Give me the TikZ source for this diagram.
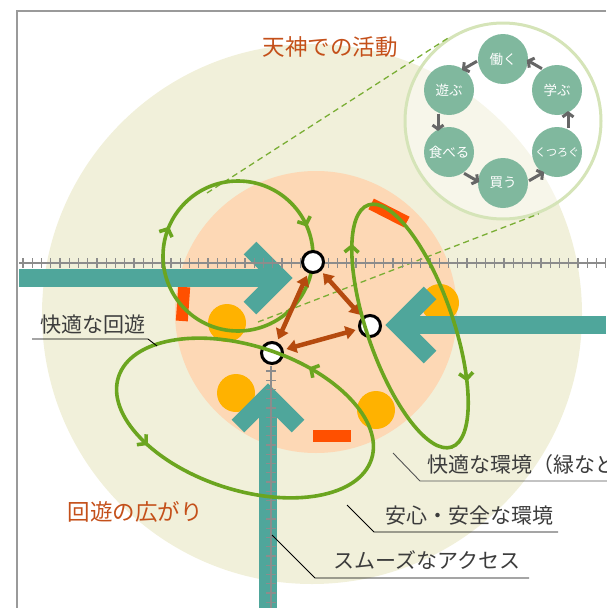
\documentclass[tikz,border=0pt]{standalone}
\usepackage{fontspec}
\setmainfont{Noto Sans CJK JP}
\usetikzlibrary{arrows.meta, calc, decorations.markings}

\definecolor{outerbeige}{HTML}{F1F0DA}
\definecolor{innerpeach}{HTML}{FDD8B5}
\definecolor{accessteal}{HTML}{4FA69B}
\definecolor{spotyellow}{HTML}{FFB200}
\definecolor{barred}{HTML}{FF5000}
\definecolor{roamgreen}{HTML}{6BA51F}
\definecolor{linkbrown}{HTML}{B54A0E}
\definecolor{actgreen}{HTML}{80B89E}
\definecolor{ringgreen}{HTML}{D5E4B8}
\definecolor{headorange}{HTML}{C4501A}
\definecolor{notegray}{HTML}{3C3C3C}
\definecolor{leadergray}{HTML}{555555}
\definecolor{trackgray}{HTML}{8C8C8C}
\definecolor{framegray}{HTML}{9A9A9A}
\definecolor{flowgray}{HTML}{666666}

\begin{document}
\begin{tikzpicture}[
        x=1pt, y=-1pt,
        roambarb/.tip={Straight Barb[length=6pt, width=14pt]},
        roam/.style={
            color=roamgreen,
            line width=3.6pt,
            postaction={decorate}
        },
        access/.style={
            draw=accessteal,
            line width=18pt
        },
        accesshead/.style={
            access,
            line join=miter,
            miter limit=4
        },
        track/.style={
            draw=trackgray,
            line width=2pt
        },
        tick/.style={
            draw=trackgray,
            line width=1.4pt
        },
        hub/.style={
            circle,
            draw=black,
            fill=white,
            line width=3pt,
            minimum size=21pt,
            inner sep=0pt
        },
        link/.style={
            draw=linkbrown,
            line width=4.5pt,
            >={Triangle[length=10pt, width=13pt]},
            <->,
            shorten <=3pt,
            shorten >=3pt
        },
        act/.style={
            circle,
            fill=actgreen,
            minimum size=50pt,
            inner sep=0pt,
            text=white,
            font=\fontsize{13.5pt}{13.5pt}\selectfont
        },
        flow/.style={
            draw=flowgray,
            line width=3pt,
            -{Straight Barb[length=4pt, width=11pt]}
        },
        zoomline/.style={
            draw=roamgreen!90,
            line width=1.3pt,
            dash pattern=on 6pt off 4pt
        },
        heading/.style={
            text=headorange,
            inner sep=0pt,
            font=\fontsize{22.5pt}{22.5pt}\selectfont
        },
        note/.style={
            anchor=west,
            text=notegray,
            inner sep=0pt,
            font=\fontsize{21pt}{21pt}\selectfont
        },
        leader/.style={
            draw=black,
            line width=0.9pt
        }
    ]

    \useasboundingbox (0,0) rectangle (606,608);

    % Frame
    \draw[framegray, line width=1.5pt] (606,11) -- (17,11) -- (17,608);

    % Areas
    \fill[outerbeige] (312,314) circle [radius=270];
    \fill[innerpeach] (316,312) circle [radius=141];

    % Spots and bars
    \foreach \p in {(227,323),(236,393),(376,410),(440,303)}
        \fill[spotyellow] \p circle [radius=19];
    \fill[barred, rotate around={-4:(183,304)}] (177,287) rectangle (189,321);
    \fill[barred, rotate around={-27:(389,213)}] (369,207) rectangle (409,219);
    \fill[barred] (313,430) rectangle (351,442);

    % Inset with the activities
    \node[circle, draw=ringgreen, line width=3pt, fill=white, fill opacity=0.45,
          minimum size=196pt, inner sep=0pt] (inset) at (503,121) {};
    \coordinate (zoomA) at (207,193);
    \coordinate (zoomB) at (258,322);
    \draw[zoomline] (zoomA) -- (tangent cs:node=inset, point={(zoomA)}, solution=2);
    \draw[zoomline] (zoomB) -- (tangent cs:node=inset, point={(zoomB)}, solution=1);

    % Access arrows
    \draw[access] (19,278) -- (276,278);
    \draw[accesshead] (250,248) -- (280,278) -- (250,308);
    \draw[access] (606,325) -- (402,325);
    \draw[accesshead] (430,293) -- (398,325) -- (430,357);
    \draw[access] (268,608) -- (268,400);
    \draw[accesshead] (238,426) -- (268,396) -- (298,426);

    % Tracks
    \draw[track] (19,263) -- (606,263);
    \foreach \x in {23,32.25,...,606}
        \draw[tick] (\x,258) -- (\x,268);
    \draw[track] (271,366) -- (271,608);
    \foreach \y in {371,380.25,...,608}
        \draw[tick] (266,\y) -- (276,\y);

    % Roaming loop round the first hub
    \draw[roam, decoration={markings,
            mark=at position 0.564 with {\arrow{roambarb}},
            mark=at position 0.936 with {\arrow{roambarb}}}]
        (238,256) circle [radius=75];

    % Hubs and links
    \node[hub] (hubA) at (313,262) {};
    \node[hub] (hubB) at (370,326) {};
    \node[hub] (hubC) at (272,353) {};
    \draw[link] (hubA) -- (hubC);
    \draw[link] (hubA) -- (hubB);
    \draw[link] (hubC) -- (hubB);

    % Other roaming loops
    \draw[roam, rotate around={19:(410,326)}, decoration={markings,
            mark=at position 0.125 with {\arrow{roambarb}},
            mark=at position 0.672 with {\arrow{roambarb}}}]
        (410,326) ellipse [x radius=43, y radius=128];
    \draw[roam, rotate around={-18:(245,418)}, decoration={markings,
            mark=at position 0.381 with {\arrowreversed{roambarb}},
            mark=at position 0.819 with {\arrowreversed{roambarb}}}]
        (245,418) ellipse [x radius=133, y radius=72];

    % Activities
    \node[act] (hataraku) at (503,59) {働く};
    \node[act] (manabu) at (557,90) {学ぶ};
    \node[act, font=\fontsize{11pt}{11pt}\selectfont] (kutsurogu) at (557,152) {くつろぐ};
    \node[act] (kau) at (503,183) {買う};
    \node[act] (taberu) at (449,152) {食べる};
    \node[act] (asobu) at (449,90) {遊ぶ};
    \foreach \a/\b in {manabu/hataraku, hataraku/asobu, asobu/taberu,
                       taberu/kau, kau/kutsurogu, kutsurogu/manabu}
        \draw[flow] ($(\a)!0.38!(\b)!11pt!-90:(\b)$) -- ($(\a)!0.66!(\b)!11pt!90:(\a)$);

    % Headings
    \node[heading] (tenjin) at (330,47) {天神での活動};
    \node[heading] (spread) at (135,512) {回遊の広がり};

    % Notes with leaders
    \node[note] (kaiyu) at (40,325) {快適な回遊};
    \coordinate (kaiyu-end) at (157,346);
    \draw[leader] (kaiyu-end) -- ++(-9,-7) -- ++(-116,0);

    \node[note] (green) at (427,465) {快適な環境（緑など};
    \coordinate (green-end) at (393,453);
    \draw[leader, draw=leadergray] (green-end) -- ++(27,28) -- ++(190,0);

    \node[note] (safe) at (385,516) {安心・安全な環境};
    \coordinate (safe-end) at (347,505);
    \draw[leader] (safe-end) -- ++(27,27) -- ++(184,0);

    \node[note] (smooth) at (333,560) {スムーズなアクセス};
    \coordinate (smooth-end) at (272,535);
    \draw[leader] (smooth-end) -- ++(43,43) -- ++(214,0);

\end{tikzpicture}
\end{document}
